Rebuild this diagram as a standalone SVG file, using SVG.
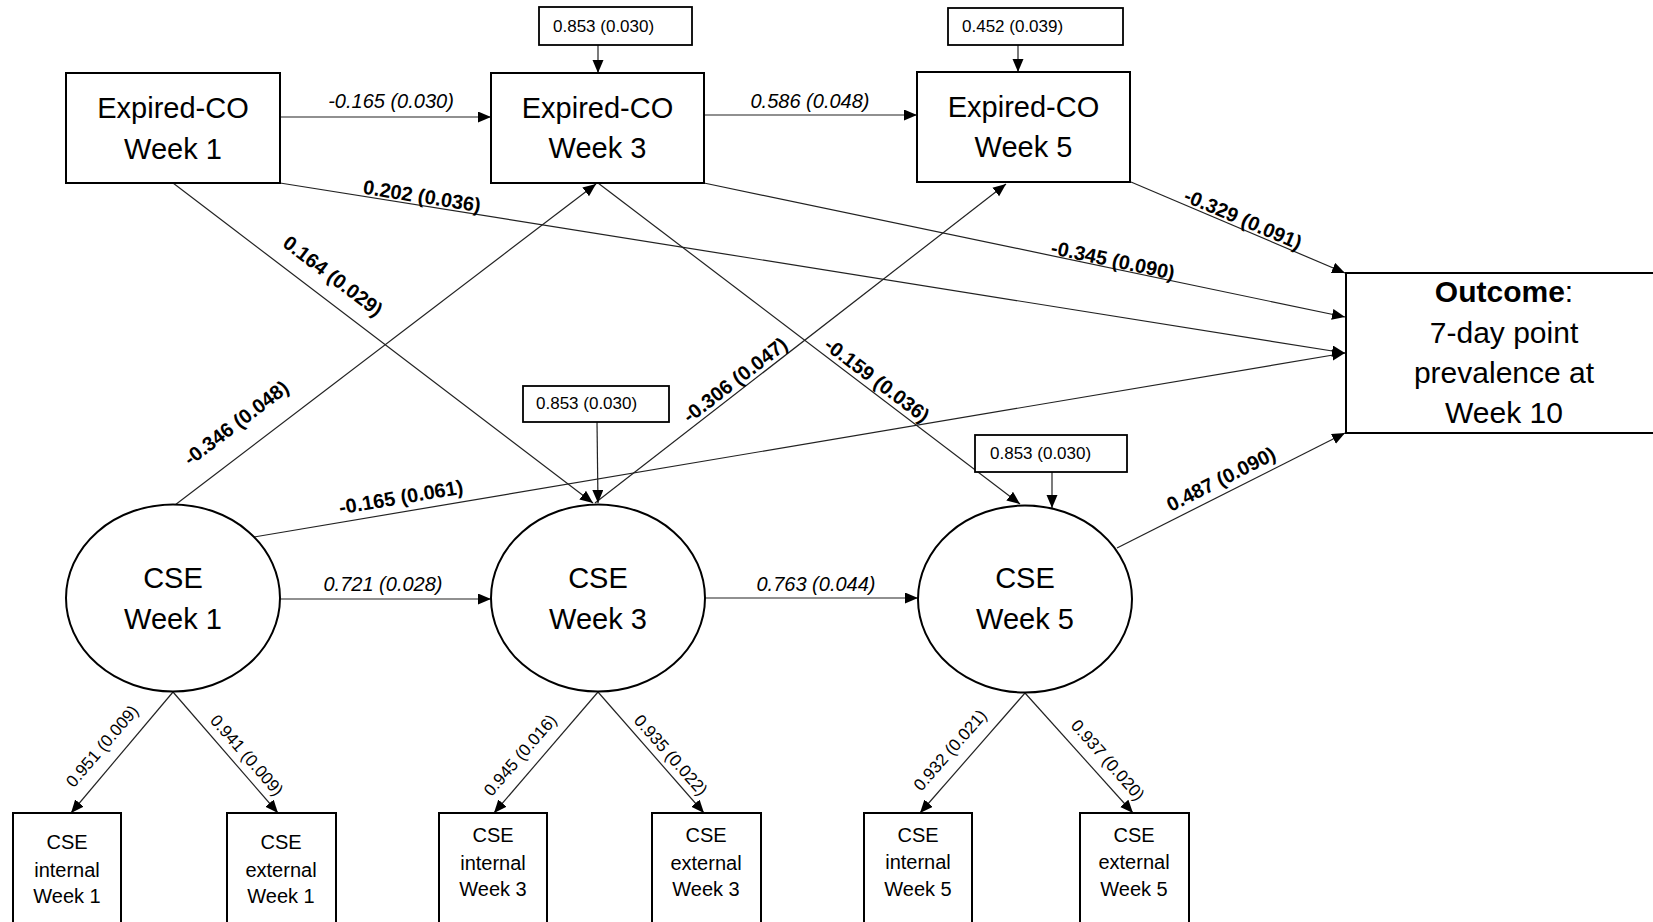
<svg xmlns="http://www.w3.org/2000/svg" width="1653" height="922" viewBox="0 0 1653 922">
<defs>
<style>
.bx{fill:#fff;stroke:#000;stroke-width:2}
.lv{fill:#fff;stroke:#000;stroke-width:2}
.rb{fill:#fff;stroke:#000;stroke-width:1.8}
.ed{fill:none;stroke:#222;stroke-width:1.2;marker-end:url(#ah)}
.big{font-family:"Liberation Sans",Arial,sans-serif;font-size:29px;fill:#000;text-anchor:middle}
.out{font-family:"Liberation Sans",Arial,sans-serif;font-size:30px;fill:#000;text-anchor:middle}
.ind{font-family:"Liberation Sans",Arial,sans-serif;font-size:20px;fill:#000;text-anchor:middle}
.res{font-family:"Liberation Sans",Arial,sans-serif;font-size:17px;fill:#000}
.it{font-family:"Liberation Sans",Arial,sans-serif;font-size:20px;font-style:italic;fill:#000;text-anchor:middle}
.bd{font-family:"Liberation Sans",Arial,sans-serif;font-size:20px;font-weight:bold;fill:#000;text-anchor:middle}
.ld{font-family:"Liberation Sans",Arial,sans-serif;font-size:17px;fill:#000;text-anchor:middle}
</style>
<marker id="ah" markerUnits="userSpaceOnUse" markerWidth="14" markerHeight="12" refX="13" refY="5.5" orient="auto">
<path d="M0,0 L13,5.5 L0,11 z" fill="#000"/>
</marker>
</defs>
<rect width="1653" height="922" fill="#fff"/>

<g id="connectors">
<line class="ed" x1="280" y1="117" x2="491" y2="117"/>
<line class="ed" x1="704" y1="115" x2="917" y2="115"/>
<line class="ed" x1="598" y1="31" x2="598" y2="73"/>
<line class="ed" x1="1018" y1="31" x2="1018" y2="72"/>
<line class="ed" x1="173" y1="183" x2="593" y2="503"/>
<line class="ed" x1="280" y1="183" x2="1345" y2="353"/>
<line class="ed" x1="704" y1="183" x2="1345" y2="317"/>
<line class="ed" x1="1131" y1="182" x2="1345" y2="273"/>
<line class="ed" x1="175" y1="505" x2="596" y2="184"/>
<line class="ed" x1="254" y1="537" x2="1345" y2="353"/>
<line class="ed" x1="598" y1="183" x2="1020" y2="504"/>
<line class="ed" x1="595" y1="503" x2="1006" y2="184"/>
<line class="ed" x1="597" y1="422" x2="598" y2="503"/>
<line class="ed" x1="1052" y1="472" x2="1052" y2="508"/>
<line class="ed" x1="280" y1="599" x2="491" y2="599"/>
<line class="ed" x1="705" y1="598" x2="918" y2="598"/>
<line class="ed" x1="1117" y1="548" x2="1345" y2="433"/>
<line class="ed" x1="173" y1="692" x2="71" y2="813"/>
<line class="ed" x1="173" y1="692" x2="278" y2="813"/>
<line class="ed" x1="598" y1="692" x2="494" y2="813"/>
<line class="ed" x1="598" y1="692" x2="704" y2="813"/>
<line class="ed" x1="1025" y1="693" x2="920" y2="813"/>
<line class="ed" x1="1025" y1="693" x2="1133" y2="813"/>

<text class="it" x="391" y="108">-0.165 (0.030)</text>
<text class="it" x="810" y="108">0.586 (0.048)</text>
<text class="it" x="383" y="591">0.721 (0.028)</text>
<text class="it" x="816" y="591">0.763 (0.044)</text>

<text class="bd" transform="translate(422,196) rotate(9.1)" y="7">0.202 (0.036)</text>
<text class="bd" transform="translate(333,276) rotate(37.2)" y="7">0.164 (0.029)</text>
<text class="bd" transform="translate(236,423) rotate(-37.2)" y="7">-0.346 (0.048)</text>
<text class="bd" transform="translate(401,497) rotate(-9.6)" y="7">-0.165 (0.061)</text>
<text class="bd" transform="translate(735,380) rotate(-37.6)" y="7">-0.306 (0.047)</text>
<text class="bd" transform="translate(877,380) rotate(37.2)" y="7">-0.159 (0.036)</text>
<text class="bd" transform="translate(1113,260) rotate(11.9)" y="7">-0.345 (0.090)</text>
<text class="bd" transform="translate(1243,219) rotate(23.1)" y="7">-0.329 (0.091)</text>
<text class="bd" transform="translate(1221,479) rotate(-26.7)" y="7">0.487 (0.090)</text>

<text class="ld" transform="translate(102,746) rotate(-49.6)" y="6">0.951 (0.009)</text>
<text class="ld" transform="translate(247,755) rotate(48.8)" y="6">0.941 (0.009)</text>
<text class="ld" transform="translate(520,755) rotate(-49.1)" y="6">0.945 (0.016)</text>
<text class="ld" transform="translate(671,755) rotate(48.5)" y="6">0.935 (0.022)</text>
<text class="ld" transform="translate(950,750) rotate(-48.8)" y="6">0.932 (0.021)</text>
<text class="ld" transform="translate(1108,760) rotate(48.5)" y="6">0.937 (0.020)</text>
</g>

<g id="res-co3">
<rect class="rb" x="539" y="7" width="153" height="38"/>
<text class="res" x="553" y="32">0.853 (0.030)</text>
</g>
<g id="res-co5">
<rect class="rb" x="948" y="8" width="175" height="37"/>
<text class="res" x="962" y="32">0.452 (0.039)</text>
</g>
<g id="res-cse3">
<rect class="rb" x="523" y="386" width="146" height="36"/>
<text class="res" x="536" y="409">0.853 (0.030)</text>
</g>
<g id="res-cse5">
<rect class="rb" x="975" y="435" width="152" height="37"/>
<text class="res" x="990" y="459">0.853 (0.030)</text>
</g>

<g id="co1">
<rect class="bx" x="66" y="73" width="214" height="110"/>
<text class="big" x="173" y="118">Expired-CO</text>
<text class="big" x="173" y="159">Week 1</text>
</g>
<g id="co3">
<rect class="bx" x="491" y="73" width="213" height="110"/>
<text class="big" x="597.5" y="118">Expired-CO</text>
<text class="big" x="597.5" y="158">Week 3</text>
</g>
<g id="co5">
<rect class="bx" x="917" y="72" width="213" height="110"/>
<text class="big" x="1023.5" y="117">Expired-CO</text>
<text class="big" x="1023.5" y="157">Week 5</text>
</g>

<g id="outcome">
<rect class="bx" x="1346" y="273" width="320" height="160"/>
<text class="out" x="1504" y="302"><tspan font-weight="bold">Outcome</tspan>:</text>
<text class="out" x="1504" y="343">7-day point</text>
<text class="out" x="1504" y="383">prevalence at</text>
<text class="out" x="1504" y="423">Week 10</text>
</g>

<g id="cse1">
<ellipse class="lv" cx="173" cy="598" rx="107" ry="93.5"/>
<text class="big" x="173" y="588">CSE</text>
<text class="big" x="173" y="629">Week 1</text>
</g>
<g id="cse3">
<ellipse class="lv" cx="598" cy="598" rx="107" ry="93.5"/>
<text class="big" x="598" y="588">CSE</text>
<text class="big" x="598" y="629">Week 3</text>
</g>
<g id="cse5">
<ellipse class="lv" cx="1025" cy="599" rx="107" ry="93.5"/>
<text class="big" x="1025" y="588">CSE</text>
<text class="big" x="1025" y="629">Week 5</text>
</g>

<g id="int1">
<rect class="bx" x="13" y="813" width="108" height="130"/>
<text class="ind" x="67" y="849">CSE</text>
<text class="ind" x="67" y="877">internal</text>
<text class="ind" x="67" y="903">Week 1</text>
</g>
<g id="ext1">
<rect class="bx" x="227" y="813" width="109" height="130"/>
<text class="ind" x="281" y="849">CSE</text>
<text class="ind" x="281" y="877">external</text>
<text class="ind" x="281" y="903">Week 1</text>
</g>
<g id="int3">
<rect class="bx" x="439" y="813" width="108" height="130"/>
<text class="ind" x="493" y="842">CSE</text>
<text class="ind" x="493" y="870">internal</text>
<text class="ind" x="493" y="896">Week 3</text>
</g>
<g id="ext3">
<rect class="bx" x="652" y="813" width="109" height="130"/>
<text class="ind" x="706" y="842">CSE</text>
<text class="ind" x="706" y="870">external</text>
<text class="ind" x="706" y="896">Week 3</text>
</g>
<g id="int5">
<rect class="bx" x="864" y="813" width="108" height="130"/>
<text class="ind" x="918" y="842">CSE</text>
<text class="ind" x="918" y="869">internal</text>
<text class="ind" x="918" y="896">Week 5</text>
</g>
<g id="ext5">
<rect class="bx" x="1080" y="813" width="109" height="130"/>
<text class="ind" x="1134" y="842">CSE</text>
<text class="ind" x="1134" y="869">external</text>
<text class="ind" x="1134" y="896">Week 5</text>
</g>
</svg>
